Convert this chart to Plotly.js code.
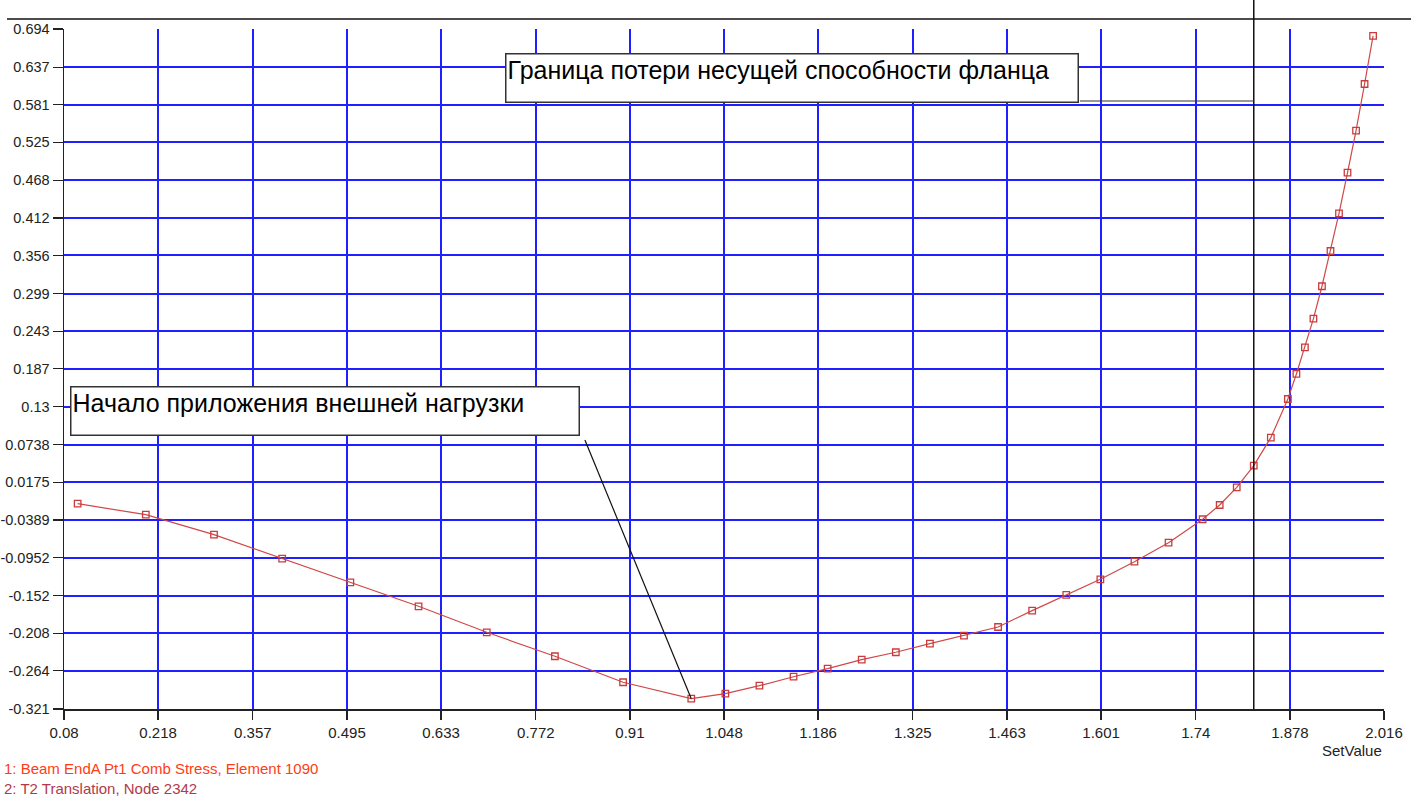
<!DOCTYPE html>
<html>
<head>
<meta charset="utf-8">
<script src="https://cdn.plot.ly/plotly-3.0.1.min.js"></script>
<style>
  html, body { margin: 0; padding: 0; background: #fff; }
  #chart { width: 1411px; height: 800px; }
</style>
</head>
<body>
<div id="chart"></div>
<script>
// ---- data ----
var setValues = [0.1, 0.2, 0.3, 0.4, 0.5, 0.6, 0.7, 0.8, 0.9, 1.0,
  1.05, 1.1, 1.15, 1.2, 1.25, 1.3, 1.35, 1.4, 1.45, 1.5, 1.55, 1.6, 1.65, 1.7, 1.75,
  1.775, 1.8, 1.825, 1.85, 1.875,
  1.8875, 1.9, 1.9125, 1.925, 1.9375, 1.95, 1.9625, 1.975, 1.9875, 2.0];
var translationValues = [-0.0145, -0.031, -0.0608, -0.0966, -0.1319, -0.1677, -0.2065, -0.2423, -0.2811, -0.3056,
  -0.2981, -0.2862, -0.2728, -0.2608, -0.2474, -0.2363, -0.2235, -0.2116, -0.1986, -0.1742, -0.1508, -0.1274, -0.1011, -0.0728, -0.0378,
  -0.0165, 0.0099, 0.0422, 0.084, 0.1417,
  0.1791, 0.2189, 0.2616, 0.31, 0.3626, 0.4189, 0.4795, 0.5422, 0.6119, 0.6836];

var xTickVals = [0.08, 0.218, 0.357, 0.495, 0.633, 0.772, 0.91, 1.048, 1.186, 1.325, 1.463, 1.601, 1.74, 1.878, 2.016];
var xTickText = ['0.08', '0.218', '0.357', '0.495', '0.633', '0.772', '0.91', '1.048', '1.186', '1.325', '1.463', '1.601', '1.74', '1.878', '2.016'];
var yTickVals = [0.694, 0.637, 0.581, 0.525, 0.468, 0.412, 0.356, 0.299, 0.243, 0.187, 0.13, 0.0738, 0.0175, -0.0389, -0.0952, -0.152, -0.208, -0.264, -0.321];
var yTickText = ['0.694', '0.637', '0.581', '0.525', '0.468', '0.412', '0.356', '0.299', '0.243', '0.187', '0.13', '0.0738', '0.0175', '-0.0389', '-0.0952', '-0.152', '-0.208', '-0.264', '-0.321'];

var limitSetValue = 1.825;          // vertical marker line
var minPoint = {x: 1.0, y: -0.3056}; // start of external load
var legendLines = ['1: Beam EndA Pt1 Comb Stress, Element 1090', '2: T2 Translation, Node 2342'];
var labelLimit = 'Граница потери несущей способности фланца';
var labelStart = 'Начало приложения внешней нагрузки';

var FONT = 'Liberation Sans, Arial, sans-serif';

var trace = {
  x: setValues,
  y: translationValues,
  type: 'scatter',
  mode: 'lines+markers',
  line: {color: '#d04848', width: 1.2},
  marker: {symbol: 'square-open', size: 6.5, color: '#c83c3c', line: {width: 1.3}},
  showlegend: false,
  hoverinfo: 'x+y'
};

var layout = {
  width: 1411,
  height: 800,
  margin: {l: 64, r: 27, t: 29, b: 91, pad: 0},
  paper_bgcolor: '#ffffff',
  plot_bgcolor: '#ffffff',
  showlegend: false,
  font: {family: FONT, size: 15, color: '#222'},
  xaxis: {
    range: [0.08, 2.016],
    tickmode: 'array', tickvals: xTickVals, ticktext: xTickText,
    showgrid: true, gridcolor: '#1f1fff', gridwidth: 2,
    zeroline: false,
    showline: true, linecolor: '#222', linewidth: 1.5,
    ticks: 'outside', ticklen: 9, tickcolor: '#222', tickwidth: 1.2,
    tickfont: {family: FONT, size: 15, color: '#222'},
    automargin: false, fixedrange: true
  },
  yaxis: {
    range: [-0.321, 0.694],
    tickmode: 'array', tickvals: yTickVals, ticktext: yTickText,
    showgrid: true, gridcolor: '#1f1fff', gridwidth: 2,
    zeroline: false,
    showline: true, linecolor: '#222', linewidth: 1.5,
    ticks: 'outside', ticklen: 10, tickcolor: '#222', tickwidth: 1.2,
    tickfont: {family: FONT, size: 14.5, color: '#222'},
    automargin: false, fixedrange: true
  },
  shapes: [
    // top horizontal rule
    {type: 'line', xref: 'paper', yref: 'paper', x0: -0.0432, x1: 1.03, y0: 1.0147, y1: 1.0147,
     line: {color: '#111', width: 1.5}},
    // vertical limit line
    {type: 'line', xref: 'x', yref: 'paper', x0: limitSetValue, x1: limitSetValue, y0: 0, y1: 1.05,
     line: {color: '#111', width: 1.5}},
    // leader for limit label
    {type: 'line', xref: 'x', yref: 'y', x0: 1.57, x1: limitSetValue, y0: 0.5865, y1: 0.5865,
     line: {color: '#333', width: 1.2}},
    // leader for start label
    {type: 'line', xref: 'x', yref: 'y', x0: 0.844, x1: minPoint.x, y0: 0.0805, y1: minPoint.y,
     line: {color: '#111', width: 1.2}}
  ],
  annotations: [
    {text: labelLimit, xref: 'x', yref: 'y', x: 0.7268, y: 0.6582, xanchor: 'left', yanchor: 'top',
     showarrow: false, align: 'left', valign: 'top', width: 569, height: 45,
     bgcolor: '#ffffff', bordercolor: '#333', borderwidth: 1.5, borderpad: 1,
     font: {family: FONT, size: 25, color: '#000'}},
    {text: labelStart, xref: 'x', yref: 'y', x: 0.0888, y: 0.1611, xanchor: 'left', yanchor: 'top',
     showarrow: false, align: 'left', valign: 'top', width: 505, height: 45,
     bgcolor: '#ffffff', bordercolor: '#333', borderwidth: 1.5, borderpad: 1,
     font: {family: FONT, size: 25, color: '#000'}},
    {text: 'SetValue', xref: 'paper', yref: 'paper', x: 1.0, y: -0.0603, xanchor: 'right', yanchor: 'middle',
     showarrow: false, font: {family: FONT, size: 15, color: '#222'}},
    {text: legendLines[0], xref: 'paper', yref: 'paper', x: -0.0470, y: -0.0868, xanchor: 'left', yanchor: 'middle',
     showarrow: false, font: {family: FONT, size: 15, color: '#ff3c14'}},
    {text: legendLines[1], xref: 'paper', yref: 'paper', x: -0.0470, y: -0.1176, xanchor: 'left', yanchor: 'middle',
     showarrow: false, font: {family: FONT, size: 15, color: '#b23a48'}}
  ]
};

Plotly.newPlot('chart', [trace], layout, {displayModeBar: false, staticPlot: true});
</script>
</body>
</html>
